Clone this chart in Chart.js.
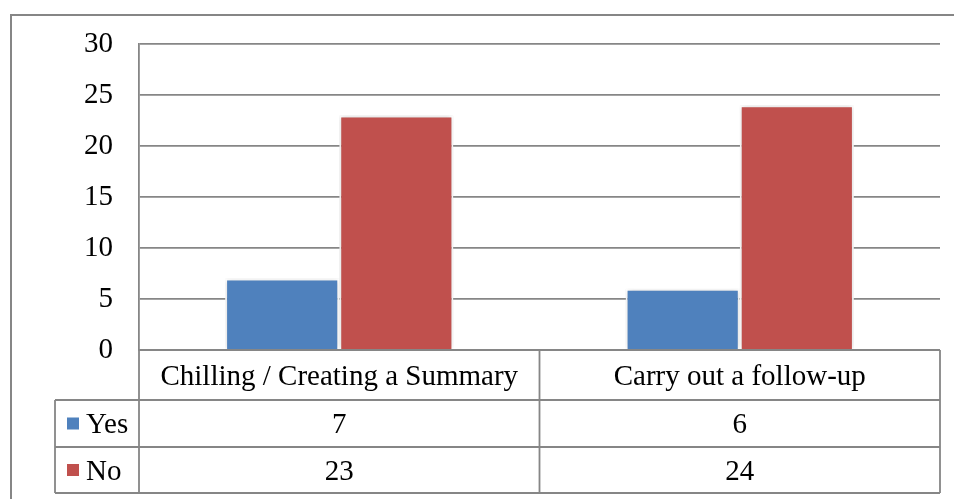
<!DOCTYPE html>
<html>
<head>
<meta charset="utf-8">
<script src="https://cdn.jsdelivr.net/npm/chart.js@4/dist/chart.umd.min.js"></script>
<style>
  html, body { margin: 0; padding: 0; background: #fff; }
  #wrap { width: 954px; height: 499px; position: relative; }
</style>
</head>
<body>
<div id="wrap"><canvas id="myChart"></canvas></div>
<script>
// DATA
var categories = ["Chilling / Creating a Summary", "Carry out a follow-up"];
var yesValues = [7, 6];
var noValues = [23, 24];
var seriesNames = ["Yes", "No"];
var yTicks = [0, 5, 10, 15, 20, 25, 30];

var BLUE = "#4F81BD";
var RED = "#C0504D";
var LINE = "#868686";
var FONT = "'Liberation Serif', 'Times New Roman', serif";
var FONT_SIZE = 29;

// OUTER FRAME + BAR SHADOW
var framePlugin = {
  id: "frame",
  beforeDraw: function (chart) {
    var ctx = chart.ctx;
    ctx.save();
    ctx.strokeStyle = LINE;
    ctx.lineWidth = 2;
    ctx.strokeRect(11, 15, chart.width + 20, chart.height + 20);
    ctx.restore();
  },
  beforeDatasetsDraw: function (chart) {
    chart.ctx.save();
    chart.ctx.shadowColor = "rgba(0,0,0,0.22)";
    chart.ctx.shadowBlur = 5;
  },
  afterDatasetsDraw: function (chart) {
    chart.ctx.restore();
  },
};

// DATA TABLE UNDER THE PLOT
var tablePlugin = {
  id: "dataTable",
  afterDraw: function (chart) {
    var ctx = chart.ctx;
    var area = chart.chartArea;
    var xs = chart.scales.x;
    var left = area.left, right = area.right;
    var mid = (xs.getPixelForValue(0) + xs.getPixelForValue(1)) / 2;
    var legLeft = 55;
    var rows = [area.bottom, area.bottom + 50, area.bottom + 97, area.bottom + 143];

    ctx.save();
    ctx.strokeStyle = LINE;
    ctx.lineWidth = 1.8;
    ctx.beginPath();
    // horizontal lines
    ctx.moveTo(left, rows[0]); ctx.lineTo(right, rows[0]);
    for (var r = 1; r < rows.length; r++) {
      ctx.moveTo(legLeft, rows[r]); ctx.lineTo(right, rows[r]);
    }
    // vertical lines
    ctx.moveTo(left, rows[0]); ctx.lineTo(left, rows[3]);
    ctx.moveTo(mid, rows[0]); ctx.lineTo(mid, rows[3]);
    ctx.moveTo(right, rows[0]); ctx.lineTo(right, rows[3]);
    ctx.moveTo(legLeft, rows[1]); ctx.lineTo(legLeft, rows[3]);
    ctx.stroke();

    ctx.fillStyle = "#000";
    ctx.font = FONT_SIZE + "px " + FONT;
    ctx.textBaseline = "middle";
    ctx.textAlign = "center";
    var cols = [(left + mid) / 2, (mid + right) / 2];
    for (var i = 0; i < categories.length; i++) {
      ctx.fillText(categories[i], cols[i], (rows[0] + rows[1]) / 2 + 2);
      ctx.fillText(String(yesValues[i]), cols[i], (rows[1] + rows[2]) / 2 + 2);
      ctx.fillText(String(noValues[i]), cols[i], (rows[2] + rows[3]) / 2 + 2);
    }

    // legend keys
    var colors = [BLUE, RED];
    ctx.textAlign = "left";
    for (var s = 0; s < seriesNames.length; s++) {
      var cy = (rows[s + 1] + rows[s + 2]) / 2;
      ctx.fillStyle = colors[s];
      ctx.fillRect(67, cy - 6, 12, 12);
      ctx.fillStyle = "#000";
      ctx.fillText(seriesNames[s], 86, cy + 2);
    }
    ctx.restore();
  },
};

new Chart(document.getElementById("myChart"), {
  type: "bar",
  data: {
    labels: categories,
    datasets: [
      {
        label: seriesNames[0],
        data: yesValues,
        backgroundColor: BLUE,
        borderColor: "#fff",
        borderWidth: 2,
        barPercentage: 1,
        categoryPercentage: 0.57,
      },
      {
        label: seriesNames[1],
        data: noValues,
        backgroundColor: RED,
        borderColor: "#fff",
        borderWidth: 2,
        barPercentage: 1,
        categoryPercentage: 0.57,
      },
    ],
  },
  options: {
    responsive: true,
    maintainAspectRatio: false,
    devicePixelRatio: 1,
    animation: false,
    layout: {
      padding: { left: 0, top: 44, right: 14, bottom: 149 },
    },
    plugins: {
      legend: { display: false },
      tooltip: { enabled: false },
    },
    scales: {
      x: {
        display: false,
      },
      y: {
        min: 0,
        max: 30,
        afterFit: function (scale) {
          scale.width = 139;
        },
        afterBuildTicks: function (scale) {
          scale.ticks = yTicks.map(function (v) { return { value: v }; });
        },
        border: { display: true, color: LINE, width: 1.8 },
        grid: { color: LINE, lineWidth: 1.8, drawTicks: false },
        ticks: {
          padding: 26,
          color: "#000",
          font: { family: FONT, size: FONT_SIZE },
        },
      },
    },
  },
  plugins: [framePlugin, tablePlugin],
});
</script>
</body>
</html>
